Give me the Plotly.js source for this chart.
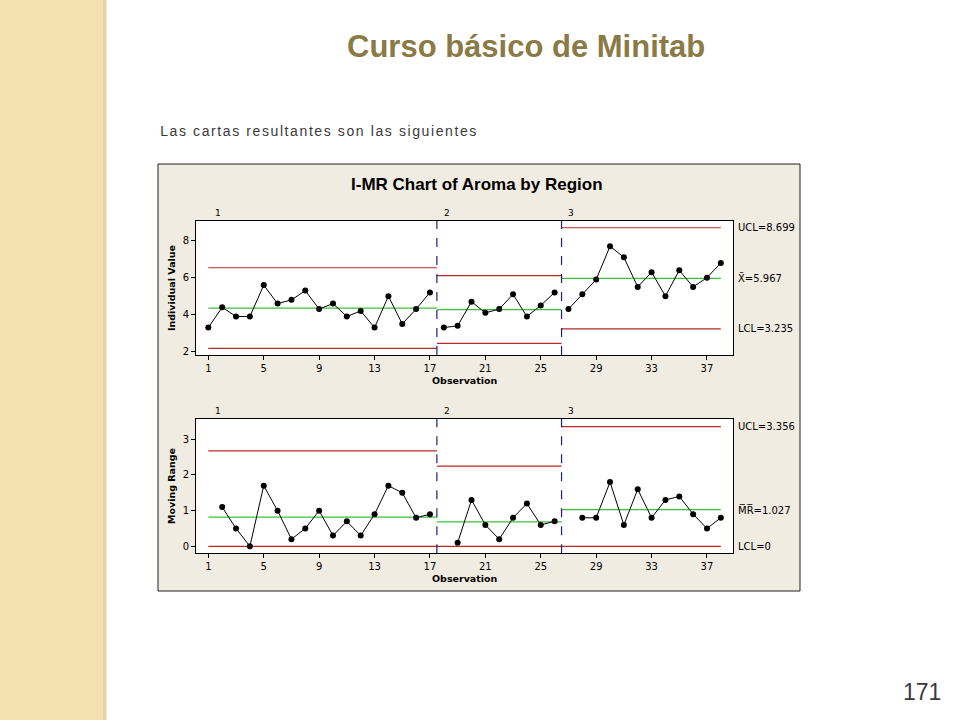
<!DOCTYPE html>
<html>
<head>
<meta charset="utf-8">
<script src="https://cdn.plot.ly/plotly-3.0.1.min.js"></script>
<style>
  html, body { margin: 0; padding: 0; background: #ffffff; }
  #chart { width: 960px; height: 720px; }
</style>
</head>
<body>
<div id="chart"></div>
<script>
// ---------- data ----------
const aroma = [3.3, 4.4, 3.9, 3.9, 5.6, 4.6, 4.8, 5.3, 4.3, 4.6, 3.9, 4.2, 3.3, 5.0, 3.5, 4.3, 5.2,
               3.3, 3.4, 4.7, 4.1, 4.3, 5.1, 3.9, 4.5, 5.2,
               4.3, 5.1, 5.9, 7.7, 7.1, 5.5, 6.3, 5.0, 6.4, 5.5, 6.0, 6.8];
const region = [1, 1, 1, 1, 1, 1, 1, 1, 1, 1, 1, 1, 1, 1, 1, 1, 1,
                2, 2, 2, 2, 2, 2, 2, 2, 2,
                3, 3, 3, 3, 3, 3, 3, 3, 3, 3, 3, 3];
const movingRange = [null, 1.1, 0.5, 0.0, 1.7, 1.0, 0.2, 0.5, 1.0, 0.3, 0.7, 0.3, 0.9, 1.7, 1.5, 0.8, 0.9,
                     null, 0.1, 1.3, 0.6, 0.2, 0.8, 1.2, 0.6, 0.7,
                     null, 0.8, 0.8, 1.8, 0.6, 1.6, 0.8, 1.3, 1.4, 0.9, 0.5, 0.8];
const groups = [1, 2, 3];
const iCenter = [4.359, 4.278, 5.967];
const iUCL = [6.537, 6.107, 8.699];
const iLCL = [2.180, 2.449, 3.235];
const mrCenter = [0.819, 0.688, 1.027];
const mrUCL = [2.675, 2.246, 3.356];
const mrLCL = [0, 0, 0];
const obsTicks = [1, 5, 9, 13, 17, 21, 25, 29, 33, 37];
const iTicks = [2, 4, 6, 8];
const mrTicks = [0, 1, 2, 3];

// ---------- styling ----------
const RED = '#B82828';
const GREEN = '#3CC03C';
const NAVY = '#1C2270';
const FONT = 'DejaVu Sans, Verdana, sans-serif';
const ARIAL = 'Liberation Sans, Arial, sans-serif';
const W = 960, H = 720;
const px = v => v / W;
const py = v => 1 - v / H;

const obs = aroma.map((_, i) => i + 1);
const traces = [];
const shapes = [];
const annotations = [];

// group extents
const ext = groups.map(g => {
  const idx = obs.filter((_, i) => region[i] === g);
  return { first: idx[0], last: idx[idx.length - 1] };
});
const segStart = ext.map((e, k) => k === 0 ? e.first : e.first - 0.5);
const segEnd = ext.map((e, k) => k === ext.length - 1 ? e.last : e.last + 0.5);

// background pieces
shapes.push({type: 'rect', xref: 'paper', yref: 'paper', x0: 0, x1: px(106), y0: 0, y1: 1,
             fillcolor: '#F4E1B2', line: {width: 0}, layer: 'below'});
shapes.push({type: 'rect', xref: 'paper', yref: 'paper', x0: px(103), x1: px(106.5), y0: 0, y1: 1,
             fillcolor: '#E6D4A6', line: {width: 0}, layer: 'below'});
shapes.push({type: 'rect', xref: 'paper', yref: 'paper', x0: px(158), x1: px(800), y0: py(591), y1: py(164),
             fillcolor: '#F0ECE2', line: {color: '#202020', width: 1}, layer: 'below'});
['', '2'].forEach(s => {
  shapes.push({type: 'rect', xref: 'x' + s + ' domain', yref: 'y' + s + ' domain', x0: 0, x1: 1, y0: 0, y1: 1,
               fillcolor: '#ffffff', line: {width: 0}, layer: 'below'});
});

function addPanel(xa, ya, values, center, ucl, lcl, centerLabel) {
  groups.forEach((g, k) => {
    const xs = [], ys = [];
    obs.forEach((o, i) => { if (region[i] === g && values[i] !== null) { xs.push(o); ys.push(values[i]); } });
    [[ucl[k], RED], [lcl[k], RED], [center[k], GREEN]].forEach(([v, c]) => {
      traces.push({x: [segStart[k], segEnd[k]], y: [v, v], xaxis: xa, yaxis: ya, mode: 'lines',
                   line: {color: c, width: 1.2}, hoverinfo: 'skip', showlegend: false});
    });
    traces.push({x: xs, y: ys, xaxis: xa, yaxis: ya, mode: 'lines+markers',
                 line: {color: '#000000', width: 1}, marker: {color: '#000000', size: 6},
                 showlegend: false});
    annotations.push({xref: xa, yref: ya + ' domain', x: segStart[k] + 0.35, y: 1, xanchor: 'left', yanchor: 'bottom',
                      text: String(g), showarrow: false, font: {family: FONT, size: 9, color: '#000'}, yshift: 1});
  });
  segEnd.slice(0, -1).forEach(b => {
    shapes.push({type: 'line', xref: xa, yref: ya + ' domain', x0: b, x1: b, y0: 0, y1: 1,
                 line: {color: NAVY, width: 1.2, dash: 'dash'}});
  });
  const last = groups.length - 1;
  const lab = [['UCL=' + ucl[last].toFixed(3), ucl[last]],
               [centerLabel + '=' + center[last].toFixed(3), center[last]],
               ['LCL=' + (lcl[last] === 0 ? '0' : lcl[last].toFixed(3)), lcl[last]]];
  lab.forEach(([t, v]) => {
    annotations.push({xref: 'paper', yref: ya, x: px(736), y: v, xanchor: 'left', yanchor: 'middle',
                      text: t, showarrow: false, font: {family: FONT, size: 10, color: '#000'}});
  });
}

addPanel('x', 'y', aroma, iCenter, iUCL, iLCL, 'X\u0304');
addPanel('x2', 'y2', movingRange, mrCenter, mrUCL, mrLCL, 'M\u0305R\u0305');

const txt = (x, y, t, size, opts = {}) => Object.assign({xref: 'paper', yref: 'paper', x: px(x), y: py(y),
  text: t, showarrow: false, xanchor: 'center', yanchor: 'middle', font: {family: FONT, size: size, color: '#000'}}, opts);
annotations.push(txt(526, 46, '<b>Curso básico de Minitab</b>', 31,
  {font: {family: ARIAL, size: 31, color: '#8B7A46'}}));
annotations.push(txt(319, 131, 'Las cartas resultantes son las siguientes', 14,
  {font: {family: ARIAL, size: 14, color: '#3A3A3A'}}));
annotations.push(txt(477, 185, '<b>I-MR Chart of Aroma by Region</b>', 17,
  {font: {family: ARIAL, size: 17, color: '#000'}}));
annotations.push(txt(465, 380, '<b>Observation</b>', 9.5));
annotations.push(txt(465, 578, '<b>Observation</b>', 9.5));
annotations.push(txt(171, 288, '<b>Individual Value</b>', 9.5, {textangle: -90}));
annotations.push(txt(171, 486, '<b>Moving Range</b>', 9.5, {textangle: -90}));
annotations.push(txt(922, 692, '171', 23,
  {font: {family: ARIAL, size: 23, color: '#3A3A3A'}}));

const axCommon = {showline: true, mirror: true, linecolor: '#000', linewidth: 1, showgrid: false, zeroline: false,
                  ticks: 'outside', ticklen: 4, tickcolor: '#000', tickfont: {family: FONT, size: 10, color: '#000'},
                  fixedrange: true};
const xDom = [px(196), px(733.3)];
const layout = {
  width: W, height: H,
  margin: {l: 0, r: 0, t: 0, b: 0},
  paper_bgcolor: '#ffffff', plot_bgcolor: 'rgba(0,0,0,0)',
  showlegend: false,
  xaxis: Object.assign({}, axCommon, {domain: xDom, anchor: 'y', range: [0.11, 38.9], tickvals: obsTicks}),
  yaxis: Object.assign({}, axCommon, {domain: [py(355), py(220.7)], anchor: 'x', range: [1.82, 9.08], tickvals: iTicks}),
  xaxis2: Object.assign({}, axCommon, {domain: xDom, anchor: 'y2', range: [0.11, 38.9], tickvals: obsTicks}),
  yaxis2: Object.assign({}, axCommon, {domain: [py(553.3), py(419)], anchor: 'x2', range: [-0.196, 3.57], tickvals: mrTicks}),
  shapes: shapes,
  annotations: annotations
};
Plotly.newPlot('chart', traces, layout, {displayModeBar: false, staticPlot: true}).then(() => {
  document.querySelectorAll('.annotation-text').forEach(el => {
    if (el.textContent.indexOf('Las cartas') === 0) el.style.letterSpacing = '1.6px';
  });
});
</script>
</body>
</html>
